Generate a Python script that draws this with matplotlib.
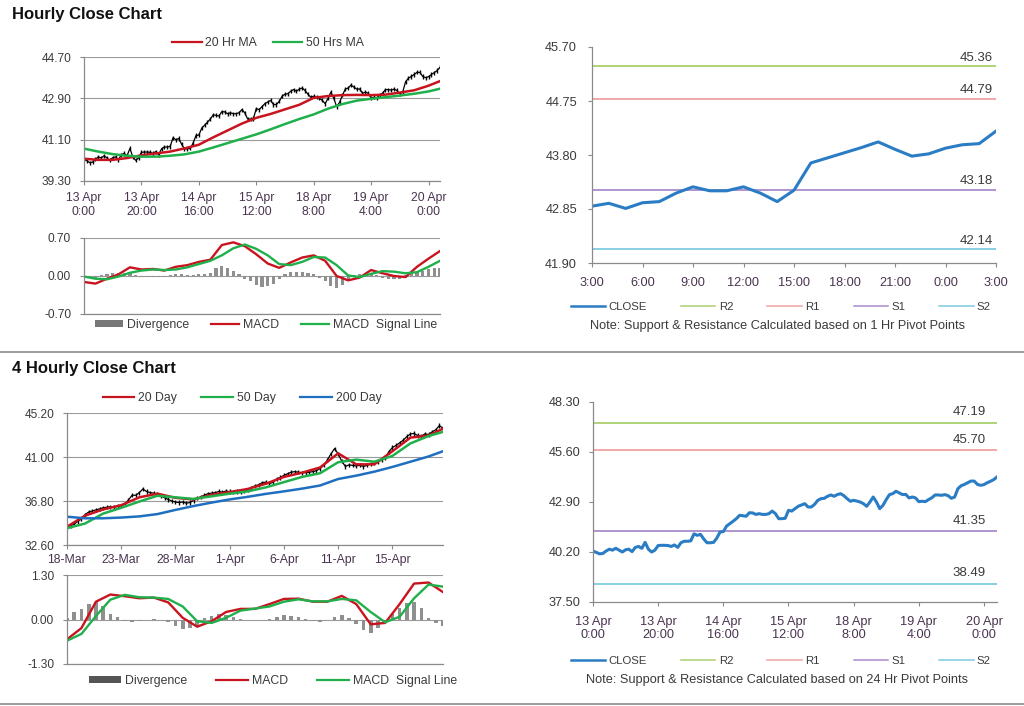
import matplotlib
matplotlib.use('Agg')
import matplotlib.pyplot as plt
from matplotlib.patches import Patch
from matplotlib.lines import Line2D

plt.rcParams['font.family'] = ['Liberation Sans', 'DejaVu Sans']

# ---------------- DATA ----------------
# Hourly close (13 Apr 0:00 .. 20 Apr ~4:00), one value per hourly bar
hourly_close = [
    40.25, 40.18, 40.10, 40.12, 40.25, 40.35, 40.30, 40.40, 40.30, 40.20,
    40.32, 40.35, 40.22, 40.45, 40.50, 40.40, 40.72, 40.35, 40.20, 40.30,
    40.55, 40.56, 40.56, 40.55, 40.50, 40.58, 40.45, 40.70, 40.78, 40.78,
    40.80, 41.18, 41.10, 41.15, 40.90, 40.70, 40.70, 40.72, 40.95, 41.28,
    41.30, 41.60, 41.73, 41.86, 42.00, 42.18, 42.16, 42.13, 42.32, 42.31,
    42.23, 42.27, 42.23, 42.23, 42.27, 42.41, 42.27, 42.00, 42.00, 42.02,
    42.45, 42.41, 42.54, 42.67, 42.74, 42.81, 42.63, 42.63, 42.77, 42.99,
    43.08, 43.10, 43.21, 43.28, 43.21, 43.30, 43.35, 43.24, 43.08, 42.94,
    42.99, 42.95, 42.90, 42.81, 42.67, 42.90, 43.17, 42.90, 42.54, 42.72,
    43.03, 43.30, 43.35, 43.48, 43.39, 43.30, 43.31, 43.12, 43.17, 43.12,
    42.92, 42.94, 42.92, 43.03, 43.13, 43.28, 43.28, 43.26, 43.30, 43.24,
    43.10, 43.17, 43.62, 43.78, 43.85, 43.94, 44.03, 44.03, 43.85, 43.80,
    43.84, 43.94, 44.02, 44.11, 44.25,
]
hourly_labels = ['13 Apr\n0:00', '13 Apr\n20:00', '14 Apr\n16:00', '15 Apr\n12:00',
                 '18 Apr\n8:00', '19 Apr\n4:00', '20 Apr\n0:00']

# moving averages sampled every 5 hourly bars
ma_hour_idx = [0, 5, 10, 15, 20, 25, 30, 35, 40, 45, 50, 55, 60, 65, 70, 75, 80,
               85, 90, 95, 100, 105, 110, 115, 120, 124]
ma20_hr = [40.27, 40.22, 40.22, 40.30, 40.42, 40.50, 40.58, 40.72, 40.88, 41.20,
           41.50, 41.80, 42.05, 42.22, 42.42, 42.62, 42.92, 43.00, 43.04, 43.05,
           43.04, 43.06, 43.15, 43.25, 43.45, 43.65]
ma50_hr = [40.71, 40.58, 40.47, 40.40, 40.36, 40.36, 40.40, 40.46, 40.58, 40.76,
           40.95, 41.14, 41.33, 41.55, 41.78, 42.00, 42.20, 42.45, 42.65, 42.80,
           42.88, 42.95, 43.02, 43.10, 43.20, 43.32]

# hourly MACD (every 4 bars) and divergence (every 2 bars)
macd_hr_idx = [0, 4, 8, 12, 16, 20, 24, 28, 32, 36, 40, 44, 48, 52, 56, 60, 64,
               68, 72, 76, 80, 84, 88, 92, 96, 100, 104, 108, 112, 116, 120, 124]
macd_hr = [-0.11, -0.14, -0.05, 0.03, 0.16, 0.12, 0.13, 0.10, 0.17, 0.20, 0.26,
           0.30, 0.57, 0.62, 0.55, 0.40, 0.23, 0.15, 0.25, 0.34, 0.38, 0.28, 0.00,
           -0.08, -0.03, 0.11, 0.05, 0.00, -0.02, 0.17, 0.32, 0.46]
signal_hr = [-0.01, -0.05, -0.06, -0.01, 0.06, 0.10, 0.12, 0.11, 0.12, 0.16, 0.22,
             0.28, 0.38, 0.51, 0.58, 0.50, 0.38, 0.22, 0.20, 0.26, 0.35, 0.34, 0.20,
             0.01, -0.02, 0.04, 0.09, 0.08, 0.05, 0.07, 0.17, 0.28]
div_hr_idx = list(range(0, 125, 2))
div_hr = [-0.02, -0.04, -0.03, 0.02, 0.04, 0.05, 0.06, 0.06, 0.05, 0.02, -0.01,
          -0.02, -0.02, -0.02, -0.01, 0.02, 0.04, 0.03, 0.01, 0.02, 0.03, 0.03,
          0.05, 0.14, 0.19, 0.15, 0.09, 0.03, -0.05, -0.10, -0.16, -0.21, -0.19,
          -0.14, -0.06, 0.04, 0.07, 0.08, 0.08, 0.05, 0.03, -0.04, -0.10, -0.18,
          -0.22, -0.16, -0.08, 0.02, 0.04, 0.04, 0.03, 0.01, -0.03, -0.05, -0.06,
          -0.05, 0.01, 0.05, 0.08, 0.10, 0.12, 0.14, 0.15]

# last 25 hourly closes with 1 Hr pivot levels
pivot1_labels = ['3:00', '6:00', '9:00', '12:00', '15:00', '18:00', '21:00', '0:00', '3:00']
pivot1_close = [42.90, 42.95, 42.86, 42.96, 42.98, 43.13, 43.24, 43.17, 43.17, 43.24,
                43.13, 42.98, 43.18, 43.66, 43.75, 43.84, 43.93, 44.03, 43.90, 43.78,
                43.82, 43.92, 43.98, 44.00, 44.22]
pivot1_levels = {'R2': 45.36, 'R1': 44.79, 'S1': 43.18, 'S2': 42.14}

# 24 Hr pivot levels (for the hourly close)
pivot24_levels = {'R2': 47.19, 'R1': 45.70, 'S1': 41.35, 'S2': 38.49}

# 4-hourly close (18-Mar .. 19-Apr), sampled every 8 hours
h4_close = [
    34.35, 34.45, 34.60, 34.85, 35.10, 35.50, 35.75, 35.85, 35.95, 36.05,
    36.15, 36.20, 36.25, 36.20, 36.30, 36.35, 36.50, 36.90, 37.35, 37.35,
    37.60, 37.95, 37.70, 37.60, 37.55, 37.45, 37.30, 37.10, 36.95, 36.80,
    36.70, 36.65, 36.70, 36.60, 36.65, 36.85, 37.05, 37.20, 37.35, 37.50,
    37.55, 37.60, 37.70, 37.65, 37.75, 37.70, 37.65, 37.70, 37.65, 37.75,
    37.85, 38.05, 38.25, 38.35, 38.55, 38.60, 38.45, 38.60, 38.90, 39.05,
    39.25, 39.40, 39.55, 39.60, 39.55, 39.50, 39.50, 39.55, 39.60, 39.70,
    39.90, 40.20, 40.70, 41.30, 41.80, 41.30, 40.60, 40.10, 40.25, 40.20,
    40.15, 40.20, 40.10, 40.20, 40.35, 40.40, 40.55, 40.70, 40.90, 41.50,
    41.90, 42.10, 42.35, 42.60, 42.95, 43.20, 43.25, 43.05, 43.00, 43.20,
    43.15, 43.40, 43.60, 44.00, 43.75,
]
h4_labels = ['18-Mar', '23-Mar', '28-Mar', '1-Apr', '6-Apr', '11-Apr', '15-Apr']
h4_ma_idx = [0, 5, 10, 15, 20, 25, 30, 35, 40, 45, 50, 55, 60, 65, 70, 75, 80, 85,
             90, 95, 100, 104]
ma20_day = [34.35, 35.40, 36.00, 36.40, 37.15, 37.50, 37.10, 36.95, 37.40, 37.65,
            37.95, 38.45, 39.10, 39.50, 40.00, 41.35, 40.30, 40.30, 41.55, 42.85,
            43.05, 43.70]
ma50_day = [34.20, 34.65, 35.60, 36.15, 36.75, 37.30, 37.15, 37.00, 37.25, 37.50,
            37.72, 38.10, 38.60, 39.10, 39.45, 40.50, 40.75, 40.55, 41.10, 42.30,
            43.00, 43.40]
ma200_day = [35.30, 35.15, 35.15, 35.22, 35.33, 35.55, 35.95, 36.32, 36.65, 36.95,
             37.20, 37.48, 37.72, 37.98, 38.28, 38.90, 39.22, 39.60, 40.05, 40.55,
             41.05, 41.55]

h4_macd_idx = [0, 4, 8, 12, 16, 20, 24, 28, 32, 36, 40, 44, 48, 52, 56, 60, 64,
               68, 72, 76, 80, 84, 88, 92, 96, 100, 104]
macd_h4 = [-0.58, -0.25, 0.52, 0.73, 0.68, 0.62, 0.64, 0.50, 0.05, -0.21, -0.05,
           0.22, 0.31, 0.31, 0.45, 0.60, 0.61, 0.52, 0.52, 0.69, 0.45, -0.14, -0.10,
           0.45, 1.05, 1.08, 0.80]
signal_h4 = [-0.62, -0.42, 0.10, 0.58, 0.72, 0.65, 0.64, 0.60, 0.38, -0.05, -0.10,
             0.05, 0.26, 0.32, 0.38, 0.52, 0.59, 0.53, 0.53, 0.60, 0.56, 0.22, -0.08,
             0.08, 0.62, 1.02, 0.96]
div_h4_idx = list(range(0, 105, 2))
div_h4 = [0.05, 0.22, 0.30, 0.45, 0.50, 0.40, 0.15, 0.08, -0.05, -0.06, -0.05,
          -0.02, 0.02, 0.00, -0.08, -0.20, -0.28, -0.25, -0.20, 0.05, 0.10, 0.15,
          0.13, 0.08, 0.02, -0.02, -0.02, -0.01, 0.02, 0.08, 0.12, 0.10, 0.06,
          0.02, -0.04, -0.06, -0.02, 0.08, 0.12, 0.05, -0.12, -0.32, -0.40, -0.25,
          -0.05, 0.15, 0.35, 0.48, 0.50, 0.35, 0.05, -0.10, -0.18]

# ---------------- STYLE ----------------
RED = '#c8141e'
GREEN = '#1fb04c'
BLUE = '#1f6fc0'
CLOSE_BLUE = '#2a7cc4'
LEVEL_COLORS = {'R2': '#a9cf6c', 'R1': '#f0a3a3', 'S1': '#a98bcb', 'S2': '#7fcadf'}
SPINE = '#8a8a8a'
GRID = '#9a9a9a'
TXT = '#3a3a3a'
XTXT = '#4a3350'
FS = 8.6
FSR = 9.2

W, H = 1024, 706
fig = plt.figure(figsize=(W / 100, H / 100), dpi=100)


def ax_px(l, t, r, b):
    return fig.add_axes([l / W, 1 - b / H, (r - l) / W, (b - t) / H])


def style(ax, grid=True, fs=FS, ypad=6.5):
    for s in ['top', 'right']:
        ax.spines[s].set_visible(False)
    for s in ['left', 'bottom']:
        ax.spines[s].set_color(SPINE)
        ax.spines[s].set_linewidth(0.9)
    ax.tick_params(axis='both', colors=SPINE, labelsize=fs, length=2.8, width=0.8)
    ax.tick_params(axis='y', pad=ypad)
    if grid:
        ax.yaxis.grid(True, color=GRID, lw=0.8)
    ax.set_axisbelow(True)


def fmt2(ax, ticks, fs=FS):
    ax.set_yticks(ticks)
    ax.set_yticklabels([f'{t:.2f}' for t in ticks], color=TXT, fontsize=fs)


# ---------- Titles & separators ----------
fig.text(12 / W, 1 - 15 / H, 'Hourly Close Chart', fontsize=12, fontweight='bold',
         va='center', ha='left', color='#111111')
fig.text(12 / W, 1 - 369 / H, '4 Hourly Close Chart', fontsize=12, fontweight='bold',
         va='center', ha='left', color='#111111')
fig.add_artist(Line2D([0, 1], [1 - 352 / H] * 2, color='#8a8a8a', lw=1.2))
fig.add_artist(Line2D([0, 1], [1 - 704 / H] * 2, color='#8a8a8a', lw=1.2))

# ---------- Top-left: hourly price ----------
ax1 = ax_px(84, 57, 440, 181)
n1 = len(hourly_close)
x1 = list(range(n1))
ax1.vlines(x1, [c - 0.09 for c in hourly_close], [c + 0.09 for c in hourly_close],
           color='black', lw=1.0)
ax1.plot(x1, hourly_close, color='black', lw=0.9)
ax1.plot(ma_hour_idx, ma20_hr, color=RED, lw=1.8, label='20 Hr MA')
ax1.plot(ma_hour_idx, ma50_hr, color=GREEN, lw=1.8, label='50 Hrs MA')
ax1.set_xlim(0, n1 - 1)
ax1.set_ylim(39.3, 44.7)
style(ax1)
fmt2(ax1, [39.3, 41.1, 42.9, 44.7])
ax1.set_xticks(list(range(0, n1, 20)))
ax1.set_xticklabels(hourly_labels, color=XTXT, fontsize=8.8)
ax1.tick_params(axis='x', pad=5)
fig.legend(handles=[Line2D([], [], color=RED, lw=1.6), Line2D([], [], color=GREEN, lw=1.6)],
           labels=['20 Hr MA', '50 Hrs MA'], loc='center', ncol=2, frameon=False,
           bbox_to_anchor=(268 / W, 1 - 43 / H), fontsize=8.8, handlelength=2.4,
           columnspacing=1.3, handletextpad=0.3, labelcolor=TXT)

# ---------- Top MACD ----------
ax2 = ax_px(84, 238, 440, 314)
ax2.bar(div_hr_idx, div_hr, width=1.1, color='#8f8f8f')
ax2.plot(macd_hr_idx, macd_hr, color=RED, lw=1.7)
ax2.plot(macd_hr_idx, signal_hr, color=GREEN, lw=1.7)
ax2.set_xlim(0, n1 - 1)
ax2.set_ylim(-0.7, 0.7)
style(ax2)
fmt2(ax2, [-0.7, 0.0, 0.7])
ax2.set_xticks([])
fig.legend(handles=[Patch(facecolor='#777777'), Line2D([], [], color=RED, lw=1.6),
                    Line2D([], [], color=GREEN, lw=1.6)],
           labels=['Divergence', 'MACD', 'MACD  Signal Line'], loc='center', ncol=3,
           frameon=False, bbox_to_anchor=(266 / W, 1 - 325 / H), fontsize=8.8,
           handlelength=2.3, handleheight=0.5, columnspacing=1.8, handletextpad=0.3,
           labelcolor=TXT)

# ---------- Top-right: 1 Hr pivots ----------
ax3 = ax_px(592, 47, 996, 263)
n3 = len(pivot1_close)
for name in ['R2', 'R1', 'S1', 'S2']:
    v = pivot1_levels[name]
    ax3.axhline(v, color=LEVEL_COLORS[name], lw=1.3)
    ax3.annotate(f'{v:.2f}', xy=(n3 - 1, v), xytext=(-2, 2), textcoords='offset points',
                 ha='right', va='bottom', fontsize=9.5, color=TXT)
ax3.plot(range(n3), pivot1_close, color=CLOSE_BLUE, lw=2.2)
ax3.set_xlim(0, n3 - 1)
ax3.set_ylim(41.9, 45.7)
style(ax3, grid=False, fs=FSR, ypad=8)
fmt2(ax3, [41.9, 42.85, 43.8, 44.75, 45.7], fs=FSR)
ax3.set_xticks(list(range(0, n3, 3)))
ax3.set_xticklabels(pivot1_labels, color=XTXT, fontsize=FSR)
ax3.tick_params(axis='x', pad=7)
lv_handles = [Line2D([], [], color=CLOSE_BLUE, lw=1.8)] + \
    [Line2D([], [], color=LEVEL_COLORS[k], lw=1.1) for k in ['R2', 'R1', 'S1', 'S2']]
fig.legend(handles=lv_handles, labels=['CLOSE', 'R2', 'R1', 'S1', 'S2'], loc='center',
           ncol=5, frameon=False, bbox_to_anchor=(781 / W, 1 - 307 / H), fontsize=8.2,
           handlelength=3.0, columnspacing=3.0, handletextpad=0.3, labelcolor=TXT)
fig.text(777 / W, 1 - 326 / H, 'Note: Support & Resistance Calculated based on 1 Hr Pivot Points',
         ha='center', va='center', fontsize=9.2, color=TXT)

# ---------- Bottom-left: 4-hourly price ----------
ax4 = ax_px(67, 413, 443, 545)
n4 = len(h4_close)
x4 = list(range(n4))
ax4.vlines(x4, [c - 0.2 for c in h4_close], [c + 0.2 for c in h4_close],
           color='black', lw=1.0)
ax4.plot(x4, h4_close, color='black', lw=0.9)
ax4.plot(h4_ma_idx, ma20_day, color=RED, lw=1.8)
ax4.plot(h4_ma_idx, ma50_day, color=GREEN, lw=1.8)
ax4.plot(h4_ma_idx, ma200_day, color=BLUE, lw=1.8)
ax4.set_xlim(0, n4 - 1)
ax4.set_ylim(32.6, 45.2)
style(ax4)
fmt2(ax4, [32.6, 36.8, 41.0, 45.2])
ax4.set_xticks(list(range(0, n4, 15)))
ax4.set_xticklabels(h4_labels, color=XTXT, fontsize=8.8)
fig.legend(handles=[Line2D([], [], color=RED, lw=1.6), Line2D([], [], color=GREEN, lw=1.6),
                    Line2D([], [], color=BLUE, lw=1.6)],
           labels=['20 Day', '50 Day', '200 Day'], loc='center', ncol=3, frameon=False,
           bbox_to_anchor=(242 / W, 1 - 398 / H), fontsize=8.8, handlelength=2.6,
           columnspacing=2.0, handletextpad=0.3, labelcolor=TXT)

# ---------- Bottom MACD ----------
ax5 = ax_px(67, 575, 443, 664)
ax5.bar(div_h4_idx, div_h4, width=1.0, color='#8f8f8f')
ax5.plot(h4_macd_idx, macd_h4, color=RED, lw=1.7)
ax5.plot(h4_macd_idx, signal_h4, color=GREEN, lw=1.7)
ax5.set_xlim(0, n4 - 1)
ax5.set_ylim(-1.3, 1.3)
style(ax5)
fmt2(ax5, [-1.3, 0.0, 1.3])
ax5.set_xticks([])
fig.legend(handles=[Patch(facecolor='#555555'), Line2D([], [], color=RED, lw=1.6),
                    Line2D([], [], color=GREEN, lw=1.6)],
           labels=['Divergence', 'MACD', 'MACD  Signal Line'], loc='center', ncol=3,
           frameon=False, bbox_to_anchor=(273 / W, 1 - 681 / H), fontsize=8.8,
           handlelength=2.6, handleheight=0.5, columnspacing=2.4, handletextpad=0.3,
           labelcolor=TXT)

# ---------- Bottom-right: 24 Hr pivots ----------
ax6 = ax_px(593, 402, 997, 602)
for name in ['R2', 'R1', 'S1', 'S2']:
    v = pivot24_levels[name]
    ax6.axhline(v, color=LEVEL_COLORS[name], lw=1.3)
    ax6.annotate(f'{v:.2f}', xy=(n1 - 1, v), xytext=(-8, 3), textcoords='offset points',
                 ha='right', va='bottom', fontsize=9.5, color=TXT)
ax6.plot(x1, hourly_close, color=CLOSE_BLUE, lw=2.2)
ax6.set_xlim(0, n1 - 1)
ax6.set_ylim(37.5, 48.3)
style(ax6, grid=False, fs=FSR, ypad=6)
fmt2(ax6, [37.5, 40.2, 42.9, 45.6, 48.3], fs=FSR)
ax6.set_xticks(list(range(0, n1, 20)))
ax6.set_xticklabels(hourly_labels, color=XTXT, fontsize=FSR)
ax6.tick_params(axis='x', pad=7)
fig.legend(handles=lv_handles, labels=['CLOSE', 'R2', 'R1', 'S1', 'S2'], loc='center',
           ncol=5, frameon=False, bbox_to_anchor=(781 / W, 1 - 661 / H), fontsize=8.2,
           handlelength=3.0, columnspacing=3.0, handletextpad=0.3, labelcolor=TXT)
fig.text(777 / W, 1 - 680 / H, 'Note: Support & Resistance Calculated based on 24 Hr Pivot Points',
         ha='center', va='center', fontsize=9.2, color=TXT)

fig.savefig('out.png', dpi=100, facecolor='white')
